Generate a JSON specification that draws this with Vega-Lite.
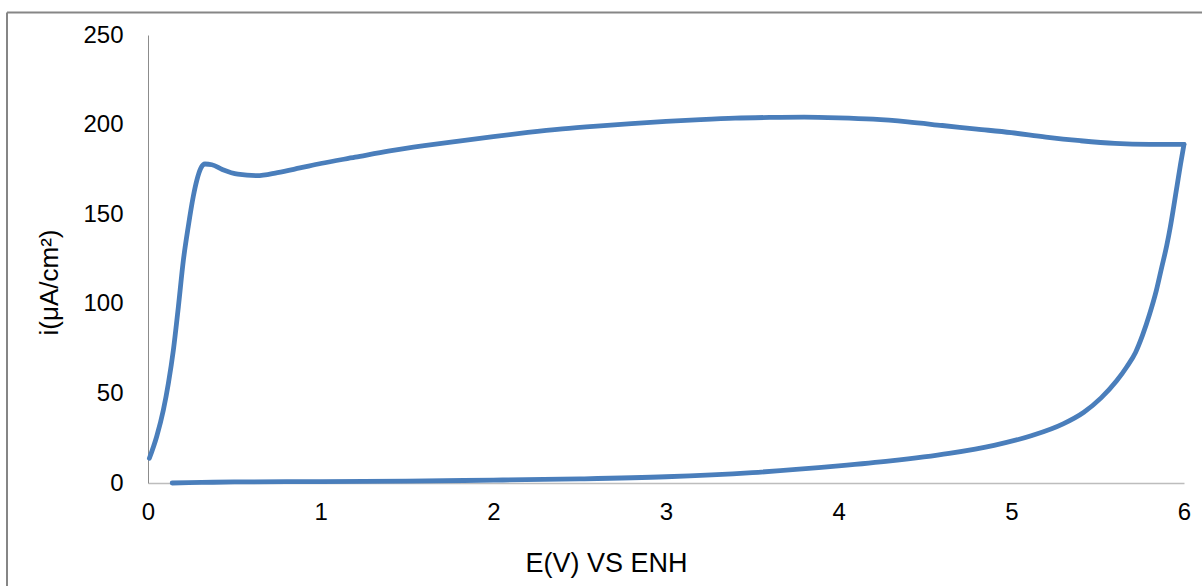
{
  "$schema": "https://vega.github.io/schema/vega-lite/v6.json",
  "width": 1036,
  "height": 448,
  "autosize": {"type": "none"},
  "padding": {"left": 148, "top": 35, "right": 18, "bottom": 103},
  "background": "white",
  "config": {"view": {"stroke": null}, "font": "Liberation Sans"},
  "datasets": {
    "cv": [
      {"b": "fwd", "k": 1, "E": 0.14, "i": 0.0},
      {"b": "fwd", "k": 2, "E": 0.31, "i": 0.3},
      {"b": "fwd", "k": 3, "E": 0.5, "i": 0.6},
      {"b": "fwd", "k": 4, "E": 1.0, "i": 0.8},
      {"b": "fwd", "k": 5, "E": 1.5, "i": 1.1},
      {"b": "fwd", "k": 6, "E": 2.0, "i": 1.6},
      {"b": "fwd", "k": 7, "E": 2.5, "i": 2.3},
      {"b": "fwd", "k": 8, "E": 3.0, "i": 3.5},
      {"b": "fwd", "k": 9, "E": 3.5, "i": 5.8},
      {"b": "fwd", "k": 10, "E": 4.0, "i": 9.5},
      {"b": "fwd", "k": 11, "E": 4.3, "i": 12.3},
      {"b": "fwd", "k": 12, "E": 4.64, "i": 16.5},
      {"b": "fwd", "k": 13, "E": 4.9, "i": 21.0},
      {"b": "fwd", "k": 14, "E": 5.12, "i": 26.5},
      {"b": "fwd", "k": 15, "E": 5.3, "i": 33.0},
      {"b": "fwd", "k": 16, "E": 5.42, "i": 39.5},
      {"b": "fwd", "k": 17, "E": 5.52, "i": 47.5},
      {"b": "fwd", "k": 18, "E": 5.61, "i": 57.0},
      {"b": "fwd", "k": 19, "E": 5.67, "i": 65.0},
      {"b": "fwd", "k": 20, "E": 5.72, "i": 73.0},
      {"b": "fwd", "k": 21, "E": 5.76, "i": 82.5},
      {"b": "fwd", "k": 22, "E": 5.8, "i": 94.0},
      {"b": "fwd", "k": 23, "E": 5.84, "i": 107.5},
      {"b": "fwd", "k": 24, "E": 5.87, "i": 120.0},
      {"b": "fwd", "k": 25, "E": 5.9, "i": 132.5},
      {"b": "fwd", "k": 26, "E": 5.92, "i": 142.5},
      {"b": "fwd", "k": 27, "E": 5.94, "i": 154.0},
      {"b": "fwd", "k": 28, "E": 5.96, "i": 166.0},
      {"b": "fwd", "k": 29, "E": 5.98, "i": 178.0},
      {"b": "fwd", "k": 30, "E": 6.0, "i": 189.0},
      {"b": "rev", "k": 31, "E": 6.0, "i": 189.0},
      {"b": "rev", "k": 32, "E": 5.8, "i": 189.0},
      {"b": "rev", "k": 33, "E": 5.6, "i": 189.5},
      {"b": "rev", "k": 34, "E": 5.4, "i": 191.0},
      {"b": "rev", "k": 35, "E": 5.2, "i": 193.0},
      {"b": "rev", "k": 36, "E": 5.0, "i": 195.5},
      {"b": "rev", "k": 37, "E": 4.8, "i": 197.5},
      {"b": "rev", "k": 38, "E": 4.6, "i": 199.5},
      {"b": "rev", "k": 39, "E": 4.4, "i": 201.5},
      {"b": "rev", "k": 40, "E": 4.2, "i": 203.0},
      {"b": "rev", "k": 41, "E": 4.0, "i": 203.8},
      {"b": "rev", "k": 42, "E": 3.8, "i": 204.2},
      {"b": "rev", "k": 43, "E": 3.6, "i": 204.0},
      {"b": "rev", "k": 44, "E": 3.4, "i": 203.6},
      {"b": "rev", "k": 45, "E": 3.2, "i": 202.8},
      {"b": "rev", "k": 46, "E": 3.0, "i": 201.8},
      {"b": "rev", "k": 47, "E": 2.8, "i": 200.6},
      {"b": "rev", "k": 48, "E": 2.6, "i": 199.2},
      {"b": "rev", "k": 49, "E": 2.4, "i": 197.6},
      {"b": "rev", "k": 50, "E": 2.2, "i": 195.6},
      {"b": "rev", "k": 51, "E": 2.0, "i": 193.3},
      {"b": "rev", "k": 52, "E": 1.8, "i": 190.8},
      {"b": "rev", "k": 53, "E": 1.6, "i": 188.2},
      {"b": "rev", "k": 54, "E": 1.4, "i": 185.3},
      {"b": "rev", "k": 55, "E": 1.2, "i": 181.8},
      {"b": "rev", "k": 56, "E": 1.0, "i": 178.3},
      {"b": "rev", "k": 57, "E": 0.88, "i": 175.8},
      {"b": "rev", "k": 58, "E": 0.75, "i": 173.2},
      {"b": "rev", "k": 59, "E": 0.63, "i": 171.5},
      {"b": "rev", "k": 60, "E": 0.52, "i": 172.3},
      {"b": "rev", "k": 61, "E": 0.43, "i": 175.0},
      {"b": "rev", "k": 62, "E": 0.37, "i": 177.6},
      {"b": "rev", "k": 63, "E": 0.33, "i": 178.0},
      {"b": "rev", "k": 64, "E": 0.305, "i": 175.5},
      {"b": "rev", "k": 65, "E": 0.283, "i": 169.0},
      {"b": "rev", "k": 66, "E": 0.262, "i": 159.8},
      {"b": "rev", "k": 67, "E": 0.233, "i": 143.0},
      {"b": "rev", "k": 68, "E": 0.205, "i": 124.4},
      {"b": "rev", "k": 69, "E": 0.176, "i": 98.4},
      {"b": "rev", "k": 70, "E": 0.147, "i": 74.2},
      {"b": "rev", "k": 71, "E": 0.118, "i": 55.6},
      {"b": "rev", "k": 72, "E": 0.089, "i": 40.7},
      {"b": "rev", "k": 73, "E": 0.05, "i": 25.8},
      {"b": "rev", "k": 74, "E": 0.008, "i": 13.8}
    ],
    "frameX": [{"E": -0.8166}],
    "frameY": [{"i": 262.6}]
  },
  "layer": [
    {
      "data": {"name": "frameX"},
      "mark": {"type": "rule", "color": "#868686", "strokeWidth": 2, "clip": false},
      "encoding": {
        "x": {"field": "E", "type": "quantitative", "scale": {"domain": [0, 6]}},
        "y": {"datum": 262.6, "type": "quantitative"},
        "y2": {"datum": -60}
      }
    },
    {
      "data": {"name": "frameY"},
      "mark": {"type": "rule", "color": "#868686", "strokeWidth": 2, "clip": false},
      "encoding": {
        "y": {"field": "i", "type": "quantitative"},
        "x": {"datum": -0.8166, "type": "quantitative"},
        "x2": {"datum": 6.2}
      }
    },
    {
      "data": {"name": "cv"},
      "mark": {"type": "line", "color": "#4a7ebb", "strokeWidth": 4.8, "strokeJoin": "round", "strokeCap": "round", "interpolate": "monotone", "clip": false},
      "encoding": {
        "x": {
          "field": "E", "type": "quantitative",
          "scale": {"domain": [0, 6], "nice": false, "zero": false},
          "axis": {
            "title": "E(V) VS ENH",
            "values": [0, 1, 2, 3, 4, 5, 6],
            "format": "d",
            "grid": false,
            "ticks": false,
            "labelFlush": false,
            "domainColor": "#bdbdbd",
            "domainWidth": 1.5,
            "labelFontSize": 24,
            "labelColor": "#000000",
            "labelPadding": 17,
            "labelFont": "Liberation Sans",
            "titleFont": "Liberation Sans",
            "titleFontSize": 27,
            "titleFontWeight": "normal",
            "titleColor": "#000000",
            "titleX": 458,
            "titleY": 88,
            "titleBaseline": "alphabetic",
            "titleAlign": "center"
          }
        },
        "y": {
          "field": "i", "type": "quantitative",
          "scale": {"domain": [0, 250], "nice": false},
          "axis": {
            "title": "i(μA/cm²)",
            "values": [0, 50, 100, 150, 200, 250],
            "grid": false,
            "ticks": false,
            "labelFlush": false,
            "domainColor": "#8c8c8c",
            "domainWidth": 1,
            "labelFontSize": 24,
            "labelColor": "#000000",
            "labelPadding": 25,
            "labelFont": "Liberation Sans",
            "titleFont": "Liberation Sans",
            "titleFontSize": 26,
            "titleFontWeight": "normal",
            "titleColor": "#000000",
            "titleAngle": -90,
            "titleX": -91,
            "titleY": 247,
            "titleBaseline": "alphabetic",
            "titleAlign": "center"
          }
        },
        "detail": {"field": "b", "type": "nominal"},
        "order": {"field": "k", "type": "quantitative"}
      }
    }
  ]
}
